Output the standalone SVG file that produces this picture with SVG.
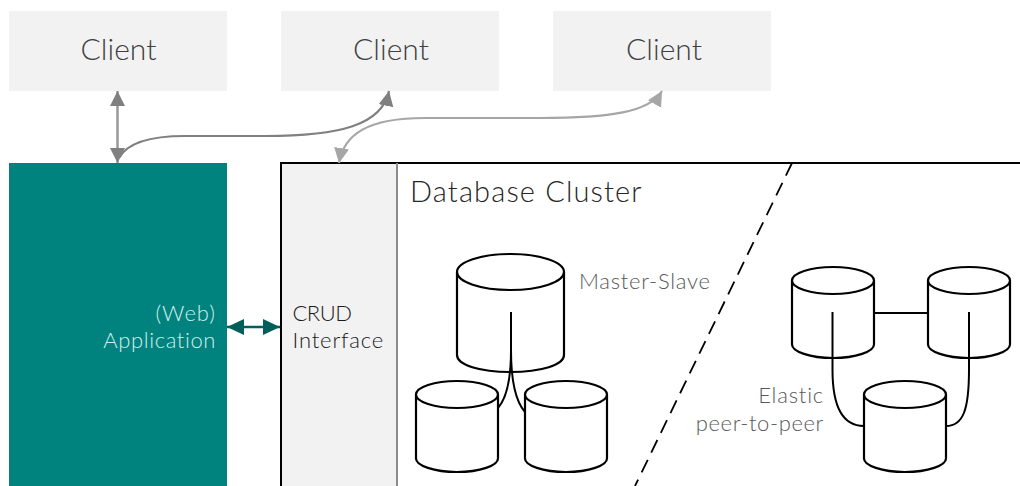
<svg xmlns="http://www.w3.org/2000/svg" width="1020" height="486" viewBox="0 0 1020 486">
<style>
text{font-family:"Lato","Liberation Sans",sans-serif;font-weight:300}
.client{font-size:30px;fill:#404040;text-anchor:middle}
.lab{font-size:22px;fill:#595959}
.cyl{fill:#fff;stroke:#000;stroke-width:2.2}
.cap{fill:#fff;stroke:#000;stroke-width:2.2}
.w{fill:none;stroke:#000;stroke-width:2}
</style>
<defs>
<marker id="g" markerUnits="userSpaceOnUse" markerWidth="16" markerHeight="16" refX="15" refY="8" orient="auto-start-reverse"><path d="M0 0.500L15 8L0 15.500z" fill="#808080"/></marker>
<marker id="l" markerUnits="userSpaceOnUse" markerWidth="16" markerHeight="16" refX="15" refY="8" orient="auto-start-reverse"><path d="M0 0.500L15 8L0 15.500z" fill="#a6a6a6"/></marker>
<marker id="t" markerUnits="userSpaceOnUse" markerWidth="17" markerHeight="17" refX="17" refY="8" orient="auto-start-reverse"><path d="M0 0L17 8L0 16z" fill="#005f5a"/></marker>
<g id="c1"><path class="cyl" d="M0 0V64C0 71 18 77.500 41 77.500S82 71 82 64V0"/><ellipse class="cap" cx="41" cy="0" rx="41" ry="13.500"/></g>
</defs>
<g id="client1"><rect x="9" y="11" width="218" height="80" fill="#f2f2f2"/><text class="client" x="118.500" y="60">Client</text></g>
<g id="client2"><rect x="281" y="11" width="218" height="80" fill="#f2f2f2"/><text class="client" x="391" y="60">Client</text></g>
<g id="client3"><rect x="553" y="11" width="218" height="80" fill="#f2f2f2"/><text class="client" x="664" y="60">Client</text></g>
<g id="application"><rect x="9" y="163" width="218" height="323" fill="#00827f"/><text x="216" y="321" text-anchor="end" font-size="22" letter-spacing="1" fill="#d0eeea">(Web)</text><text x="216" y="348" text-anchor="end" font-size="22" letter-spacing="0.600" fill="#d0eeea">Application</text></g>
<g id="cluster"><rect x="281" y="163" width="740" height="330" fill="#fff" stroke="#000" stroke-width="2"/><text x="410" y="202" font-size="29" letter-spacing="1.150" fill="#262626">Database Cluster</text></g>
<g id="crud"><rect x="282" y="164" width="115" height="322" fill="#f2f2f2"/><path d="M397 163V486" stroke="#8c8c8c" stroke-width="2"/><path d="M281 162V486" stroke="#000" stroke-width="2"/><text x="292.500" y="321" font-size="22" letter-spacing="-0.500" fill="#1a1a1a">CRUD</text><text x="292.500" y="348" font-size="22" letter-spacing="0.850" fill="#1a1a1a">Interface</text></g>
<g id="master"><path class="cyl" d="M457 272V355C457 365 480 372 510.500 372S564 365 564 355V272"/><ellipse class="cap" cx="510.500" cy="272" rx="53.500" ry="18"/><text class="lab" x="579" y="289" letter-spacing="0.750">Master-Slave</text></g>
<g id="slave1"><use href="#c1" x="416" y="394.500"/></g>
<g id="slave2"><use href="#c1" x="525" y="394.500"/></g>
<g id="peer1"><use href="#c1" x="792" y="280.500"/></g>
<g id="peer2"><use href="#c1" x="928" y="280.500"/></g>
<g id="peer3"><use href="#c1" x="864" y="394.500"/><text class="lab" x="824" y="403" text-anchor="end" letter-spacing="0.800">Elastic</text><text class="lab" x="824" y="431" text-anchor="end" letter-spacing="0.600">peer-to-peer</text></g>
<g id="connectors">
<path d="M117.500 91V163" fill="none" stroke="#999" stroke-width="2.500" marker-start="url(#g)" marker-end="url(#g)"/>
<path d="M119 158C126 145 145 136 185 136H265C340 136 382 125 389 91" fill="none" stroke="#808080" stroke-width="2.200" marker-end="url(#g)"/>
<path d="M339 163C344 134 368 118 425 118H540C610 118 650 112 662 91" fill="none" stroke="#a6a6a6" stroke-width="2.200" marker-start="url(#l)" marker-end="url(#l)"/>
<path d="M227 327H280" fill="none" stroke="#005f5a" stroke-width="2.500" marker-start="url(#t)" marker-end="url(#t)"/>
<path class="w" d="M511 312V350C511 385 505 400 498 408"/>
<path class="w" d="M511 312V350C511 385 517 403 525 412"/>
<path class="w" d="M832.500 312V370C832.500 410 845 426 864 426"/>
<path class="w" d="M969 312V370C969 410 963 426 946 426"/>
<path class="w" d="M874 313H928"/>
<path d="M792 163L635 486" fill="none" stroke="#000" stroke-width="1.800" stroke-dasharray="14 8"/>
</g>
</svg>
